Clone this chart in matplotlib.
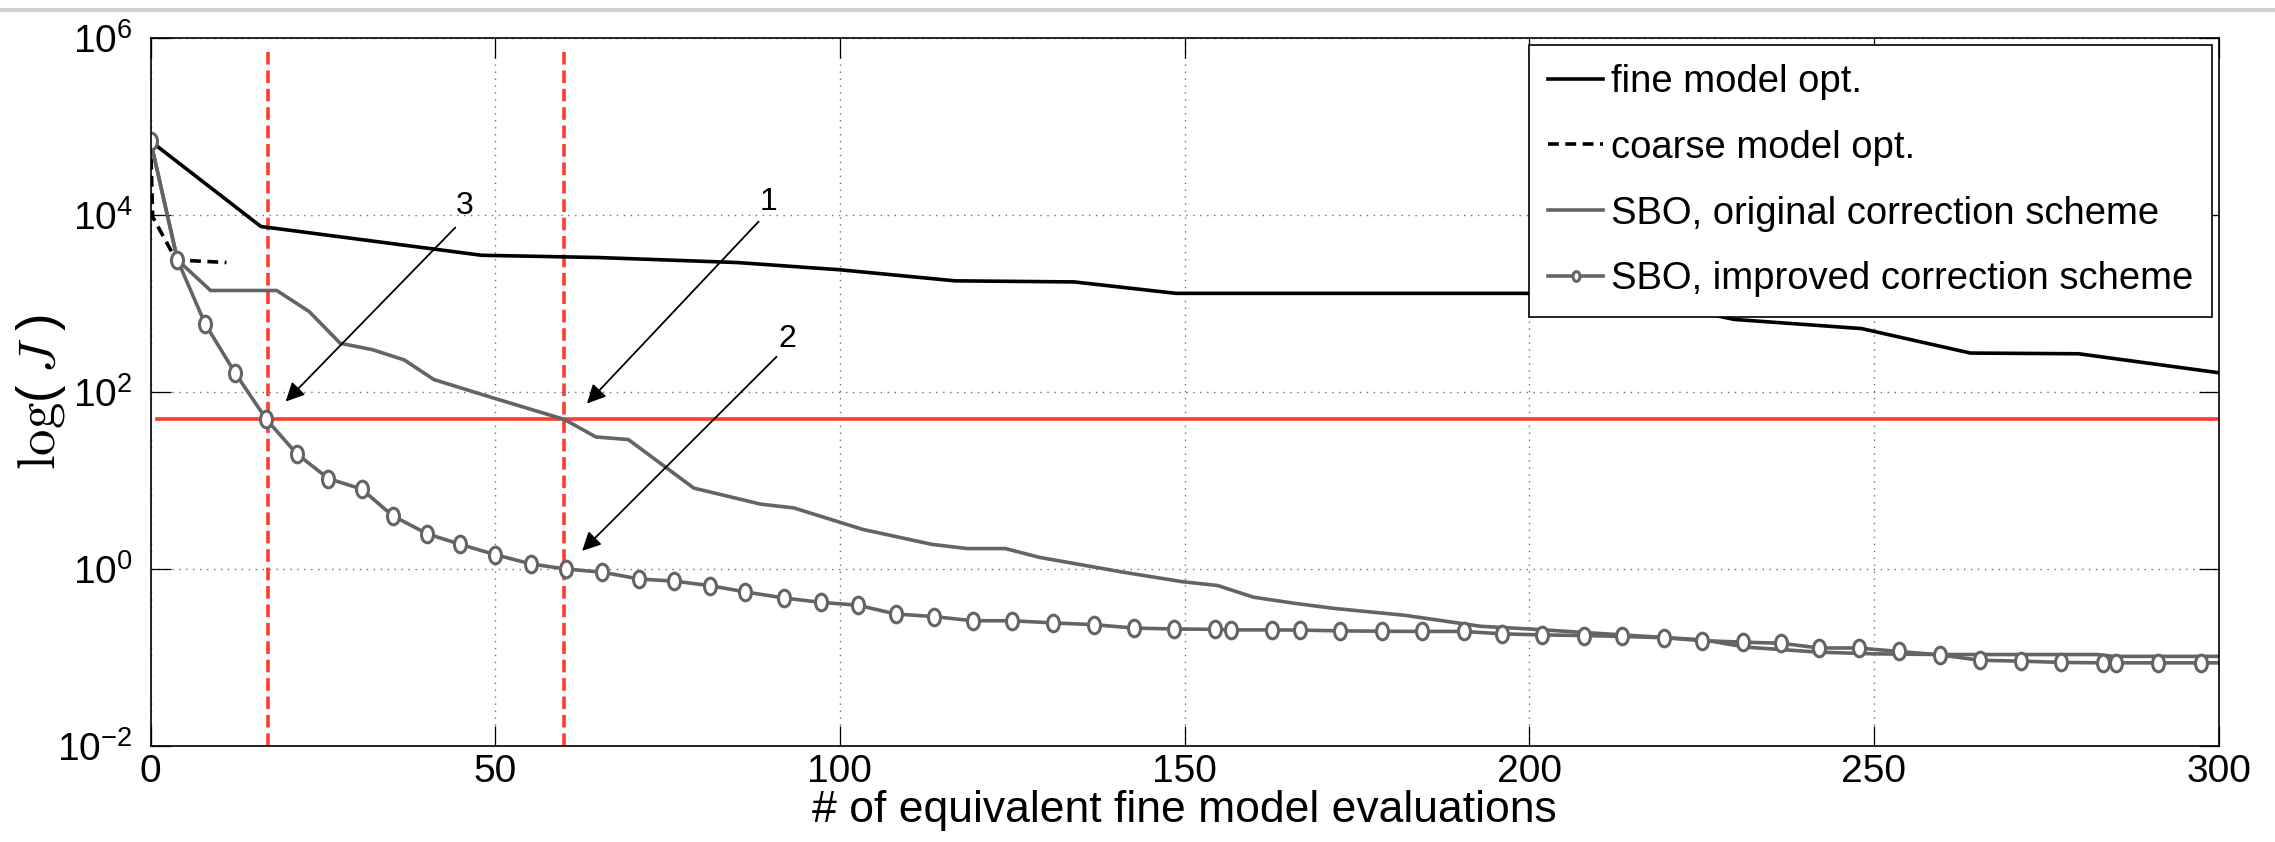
import numpy as np
import matplotlib
matplotlib.use("Agg")
from matplotlib import pyplot as plt
from matplotlib import font_manager
from matplotlib.path import Path
from matplotlib.markers import MarkerStyle
from matplotlib.lines import Line2D

# evaluation counts and objective values per run
fine_x = [0, 16, 48, 65, 85, 100, 116.7, 134, 148.75, 199, 213, 229.7, 248.2, 264, 279.7, 300]
fine_y = [6.8e4, 7.4e3, 3.5e3, 3.3e3, 2.9e3, 2.4e3, 1.8e3, 1.75e3, 1.3e3, 1.3e3, 1.25e3,
          660, 520, 275, 270, 165]

coarse_x = [0, 0.3, 3.7, 11]
coarse_y = [6.8e4, 9.5e3, 3.1e3, 2.9e3]

orig_x = [0, 3.9, 8.7, 18.3, 23, 27.5, 32.2, 36.8, 41.1, 49.4, 60, 64.6, 69.3, 78.8,
          88.5, 93.3, 103.3, 113.3, 118.5, 124, 129, 141.1, 149.6, 154.8, 160, 165.9,
          171.5, 181.9, 193, 200, 213.5, 225.3, 231.4, 241.9, 250, 259.7, 282.4, 284.8, 300]
orig_y = [6.8e4, 3.1e3, 1.4e3, 1.4e3, 810, 355, 300, 230, 138, 87, 49, 31, 29, 8.2,
          5.4, 4.9, 2.8, 1.9, 1.7, 1.7, 1.35, 0.92, 0.72, 0.65, 0.48, 0.41,
          0.36, 0.30, 0.225, 0.21, 0.18, 0.158, 0.131, 0.115, 0.11, 0.108, 0.108, 0.103, 0.103]

impr_x = [0, 3.9, 7.9, 12.3, 16.8, 21.2, 25.8, 30.6, 35.1, 40.1, 44.9, 50, 55.2, 60.2,
          65.5, 70.9, 75.9, 81.1, 86.3, 91.9, 97.2, 102.6, 108.1, 113.6, 119.3, 125,
          130.9, 136.8, 142.7, 148.5, 154.4, 156.8, 162.7, 166.7, 172.6, 178.7, 184.5,
          190.5, 196.1, 201.8, 207.9, 213.5, 219.6, 225.1, 231, 236.5, 242.1, 247.8,
          253.6, 259.6, 265.4, 271.3, 277.2, 283.2, 285.1, 291.2, 297.4, 303.5]
impr_y = [6.8e4, 3.1e3, 590, 162, 49, 20, 10.5, 8, 4, 2.5, 1.9, 1.45, 1.14, 1.0,
          0.92, 0.77, 0.73, 0.65, 0.55, 0.47, 0.42, 0.39, 0.31, 0.29, 0.26, 0.26,
          0.246, 0.235, 0.215, 0.21, 0.208, 0.205, 0.205, 0.204, 0.2, 0.198, 0.197,
          0.197, 0.185, 0.18, 0.177, 0.173, 0.167, 0.155, 0.149, 0.145, 0.128, 0.128,
          0.117, 0.107, 0.093, 0.091, 0.088, 0.087, 0.087, 0.087, 0.087, 0.087]

threshold = 50
hit_improved = 17
hit_original = 60

# annotation labels: text position, arrow tail, arrow head
notes = [("3", (45.5, 1.25e4), (44.2, 7.2e3), (19.6, 78)),
         ("1", (89.6, 1.4e4), (88.2, 8.4e3), (63.3, 74)),
         ("2", (92.3, 400), (90.8, 250), (62.6, 1.6))]

yticks = [1e-2, 1e0, 1e2, 1e4, 1e6]
xticks = [0, 50, 100, 150, 200, 250, 300]

names = {f.name for f in font_manager.fontManager.ttflist}
fam = "Liberation Sans Narrow" if "Liberation Sans Narrow" in names else "Liberation Sans"
plt.rcParams["font.family"] = [fam, "DejaVu Sans"]
plt.rcParams["mathtext.fontset"] = "custom"
plt.rcParams["mathtext.rm"] = fam
plt.rcParams["mathtext.it"] = fam
plt.rcParams["mathtext.default"] = "regular"

grey = "#646464"
red = "#ff3b2e"

# slightly tall ellipse for the circle markers
circ = Path.unit_circle()
ring = Path(circ.vertices * np.array([0.72, 1.0]), circ.codes)

fig = plt.figure(figsize=(22.75, 8.42), dpi=100)
ax = fig.add_axes([0.0662, 0.114, 0.909, 0.841])

ax.plot(fine_x, fine_y, color="k", lw=2.6, label="fine model opt.")
ax.plot(coarse_x, coarse_y, color="k", lw=2.6, dashes=(3, 1.8), label="coarse model opt.")
ax.plot(orig_x, orig_y, color=grey, lw=2.6, label="SBO, original correction scheme")
ax.plot(impr_x, impr_y, color=grey, lw=2.6, marker=MarkerStyle(ring), ms=12, mew=2.2,
        mfc="white", mec=grey, label="SBO, improved correction scheme")

ax.plot([1, 300], [threshold, threshold], color=red, lw=2.6, zorder=1)
for xv in (hit_improved, hit_original):
    ax.plot([xv, xv], [1e-2, 7.7e5], color=red, lw=2.6, dashes=(3.5, 1.6), zorder=1)

for txt, tpos, tail, head in notes:
    ax.text(tpos[0], tpos[1], txt, fontsize=23, ha="center", va="center")
    ax.annotate("", xy=head, xytext=tail,
                arrowprops=dict(arrowstyle="-|>", color="k", lw=1.3,
                                mutation_scale=28, shrinkA=0, shrinkB=0))

ax.set_yscale("log")
ax.set_xlim(0, 300)
ax.set_ylim(1e-2, 1e6)
ax.set_xticks(xticks)
ax.set_yticks(yticks)
ax.set_yticklabels(["$10^{%d}$" % int(np.log10(v)) for v in yticks])
ax.minorticks_off()
ax.grid(True, which="major", ls=(0, (1, 4)), color="#707070", lw=1.0)
ax.tick_params(direction="in", length=14.5, width=0.9, top=True, right=True,
               labelsize=28)
ax.tick_params(axis="x", pad=6)
ax.tick_params(axis="y", pad=13)
for s in ax.spines.values():
    s.set_linewidth(1.2)

ax.set_xlabel("# of equivalent fine model evaluations", fontsize=32, labelpad=0)
ax.set_ylabel(r"$\log(\;\mathit{J}\;)$", fontsize=38, math_fontfamily="cm")
ax.yaxis.set_label_coords(-0.040, 0.5)

leg = ax.legend(loc="upper right", bbox_to_anchor=(0.997, 0.990), borderaxespad=0,
                fontsize=27.5, handlelength=1.45, handletextpad=0.2, labelspacing=0.78,
                borderpad=0.5, fancybox=False, framealpha=1, edgecolor="k")
leg.get_frame().set_linewidth(1.2)
for h in leg.legend_handles:
    h.set_markersize(7)

fig.add_artist(Line2D([0, 1], [0.988, 0.988], color="#d0d0d0", lw=3))

fig.savefig("out.png", dpi=100, facecolor="white")
